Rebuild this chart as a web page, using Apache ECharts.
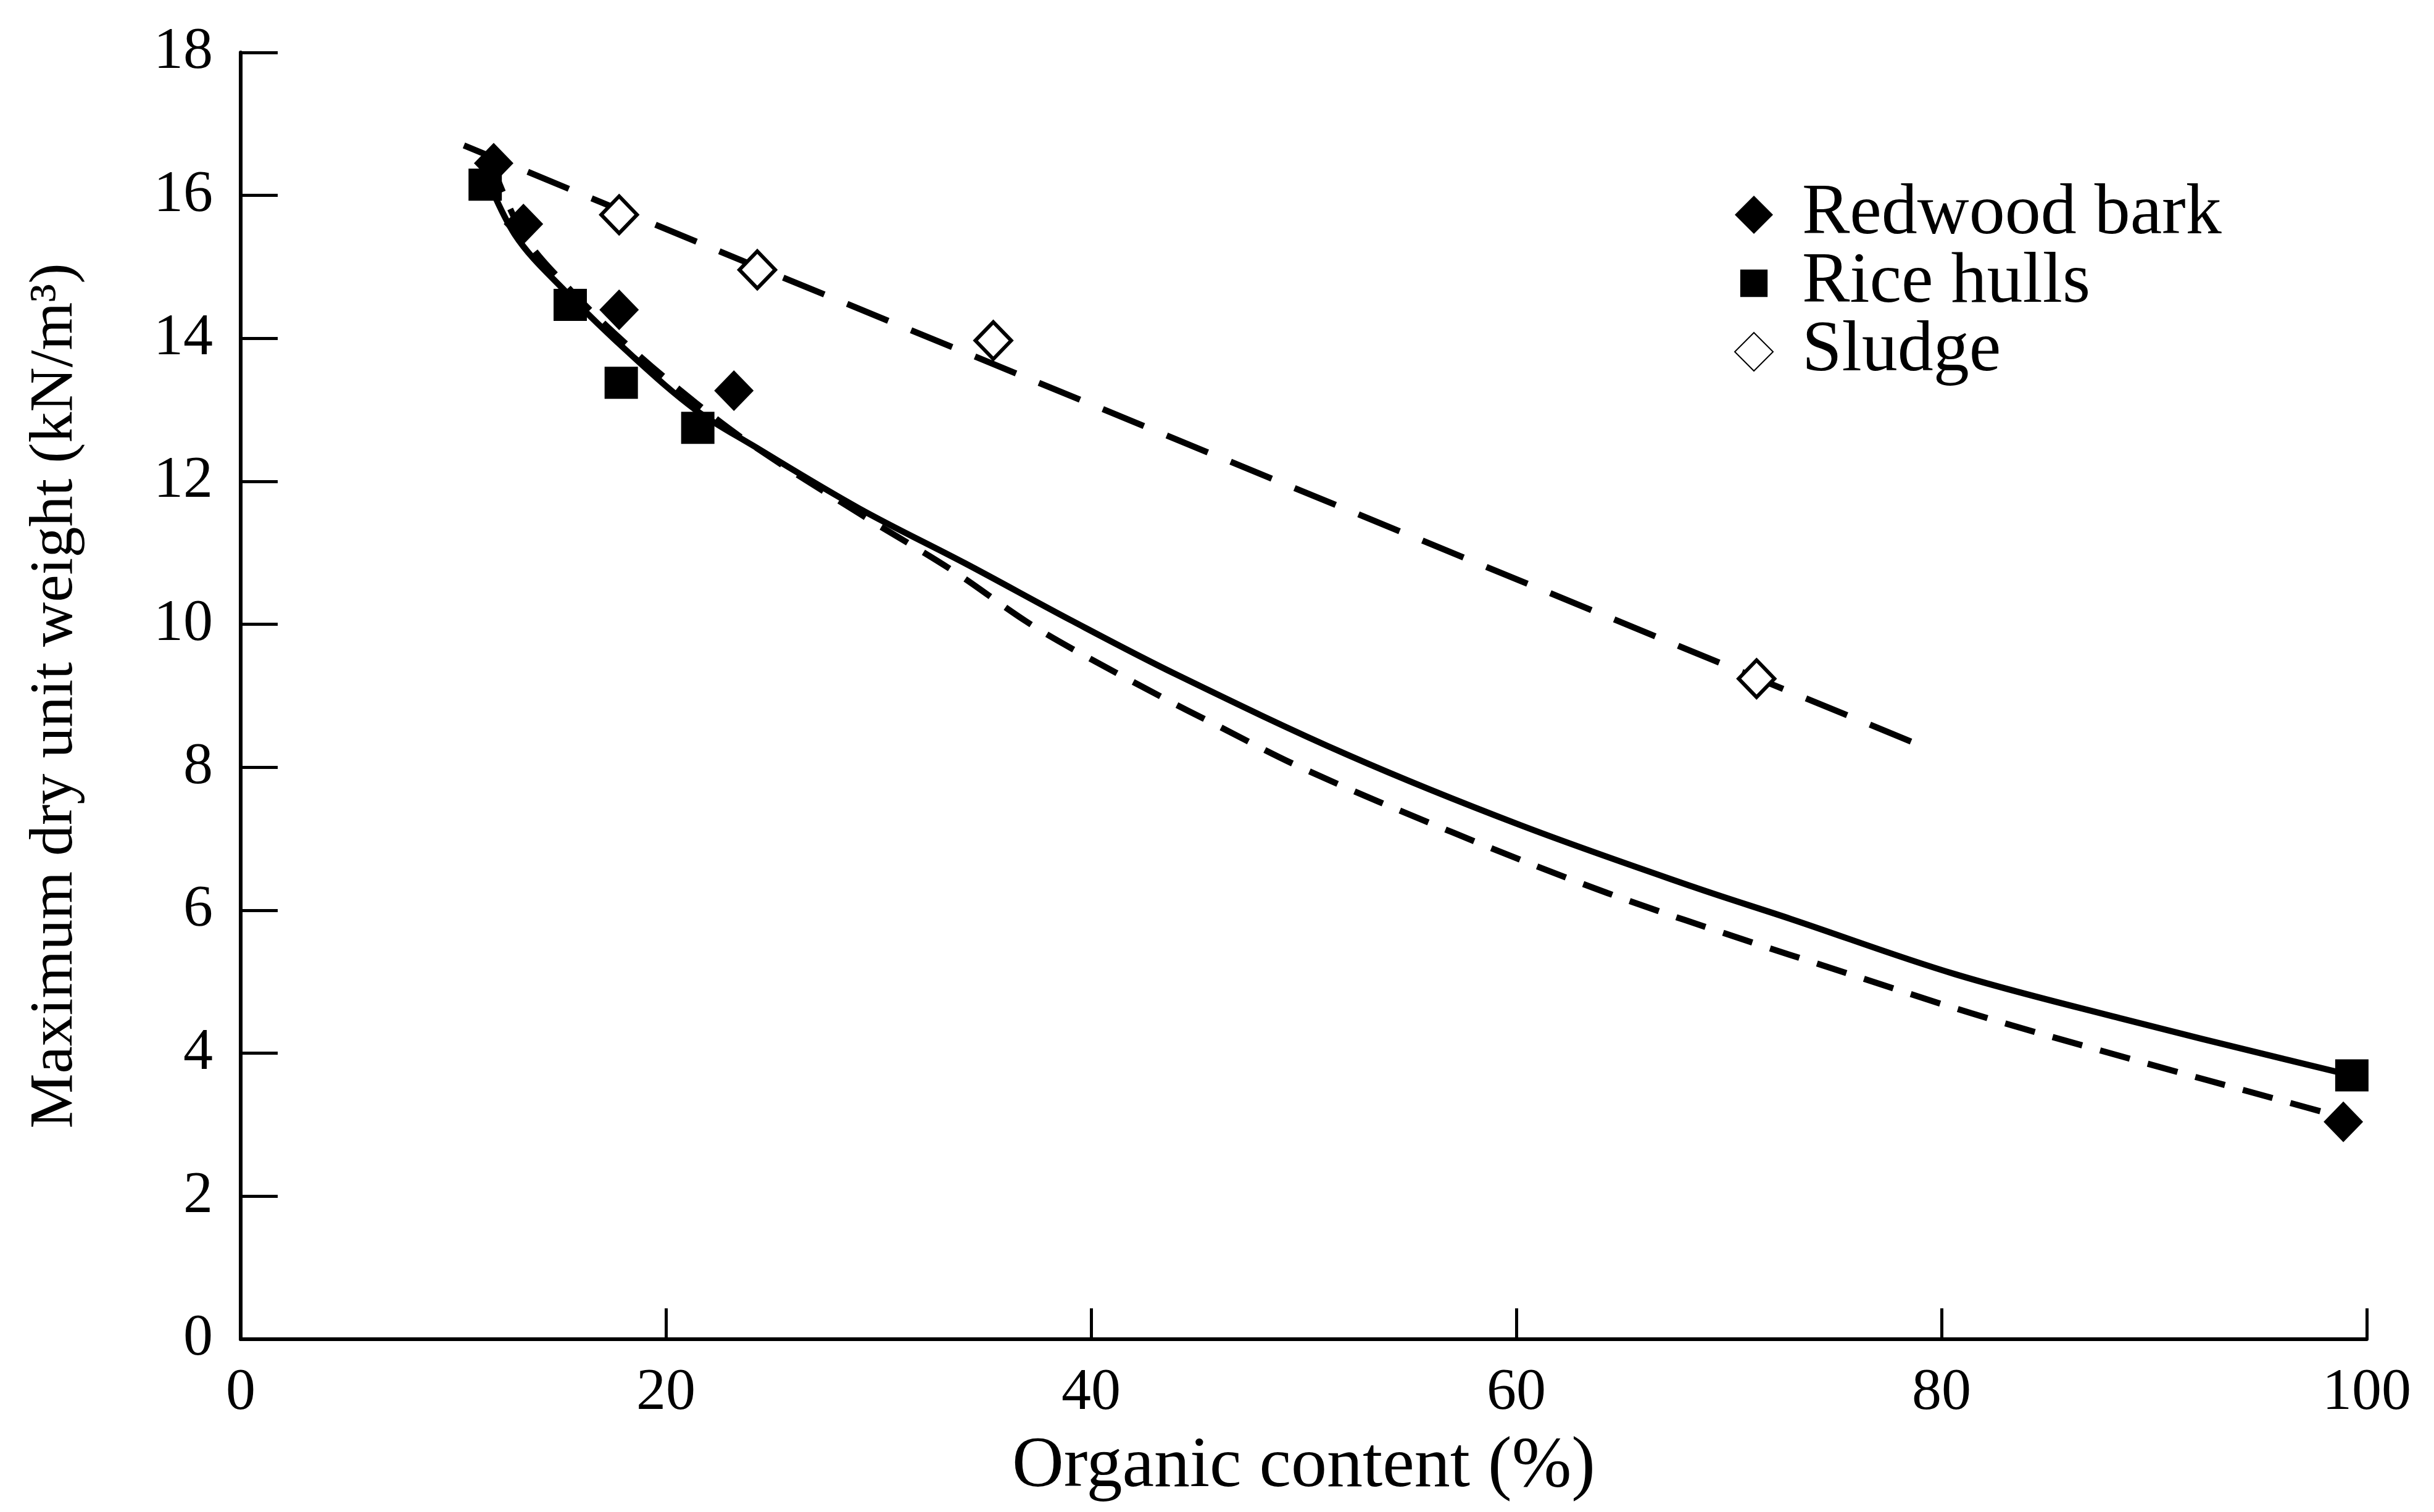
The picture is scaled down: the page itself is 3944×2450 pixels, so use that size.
<!DOCTYPE html>
<html>
<head>
<meta charset="utf-8">
<title>Maximum dry unit weight vs organic content</title>
<script src="https://cdn.jsdelivr.net/npm/echarts@6/dist/echarts.min.js"></script>
<style>
    html, body { margin: 0; padding: 0; background: #fff; }
    #chart { width: 3944px; height: 2450px; }
</style>
</head>
<body>
<div id="chart"></div>
<script>
    // measured points [organic content %, unit weight kN/m3]
    const redwoodBark = [[11.9, 16.45], [13.3, 15.6], [17.8, 14.4], [23.2, 13.27], [98.9, 3.04]];
    const riceHulls = [[11.5, 16.15], [15.5, 14.47], [17.9, 13.38], [21.5, 12.75], [99.3, 3.69]];
    const sludge = [[17.8, 15.73], [24.3, 14.96], [35.4, 13.97], [71.3, 9.24]];

    // trend curves
    const riceHullsCurve = [[11.3, 16.45], [12.9, 15.45], [15.3, 14.65], [18.4, 13.76], [21.4, 13.0], [24.1, 12.5],
        [29.1, 11.62], [34.1, 10.85], [39.1, 10.05], [44.0, 9.3], [52.1, 8.17], [60.2, 7.19], [68.3, 6.33],
        [72.9, 5.88], [80.6, 5.11], [88.4, 4.49], [96.1, 3.92], [99.3, 3.69]];
    const redwoodCurve = [[11.8, 16.45], [13.3, 15.45], [15.5, 14.68], [18.4, 13.85], [21.4, 13.1], [24.1, 12.5],
        [29.1, 11.55], [33.5, 10.75], [36.9, 10.05], [39.1, 9.66], [43.4, 8.97], [45.7, 8.62], [50.0, 7.98],
        [57.0, 7.09], [64.3, 6.24], [71.6, 5.5], [74.1, 5.26], [81.4, 4.56], [88.9, 3.92], [96.1, 3.33], [98.9, 3.1]];
    // sludge trend is a straight dashed line
    const sludgeLine = [[10.5, 16.7], [24.3, 15.0], [45.7, 12.38], [71.3, 9.25], [78.9, 8.32]];

    const xTicks = { min: 0, max: 100, step: 20 };
    const yTicks = { min: 0, max: 18, step: 2 };

    const font = '"Liberation Serif", "Times New Roman", serif';
    const black = '#000';

    let chart = echarts.init(document.getElementById('chart'));
    let options = {
        animation: false,
        backgroundColor: '#fff',
        grid: {
            left: 390,
            right: 109,
            top: 85,
            bottom: 280,
            containLabel: false
        },
        legend: {
            orient: 'vertical',
            left: 2805,
            top: 285,
            itemWidth: 62,
            itemHeight: 62,
            itemGap: -5,
            textStyle: { fontFamily: font, fontSize: 116, color: black, padding: [0, 0, 0, 42] },
            data: [
                { name: 'Redwood bark', icon: 'diamond' },
                // extra moveTo points pad the square so it draws smaller than the diamond
                { name: 'Rice hulls', icon: 'path://M0,0M14,14M2,2H12V12H2Z' },
                { name: 'Sludge', icon: 'diamond' }
            ]
        },
        xAxis: {
            type: 'value',
            min: xTicks.min,
            max: xTicks.max,
            interval: xTicks.step,
            name: 'Organic content (%)',
            nameLocation: 'middle',
            nameGap: 150,
            nameTextStyle: { fontFamily: font, fontSize: 116, color: black },
            axisLine: { show: true, lineStyle: { color: black, width: 6 } },
            axisTick: { show: true, inside: true, length: 50, lineStyle: { color: black, width: 5 } },
            axisLabel: { margin: 40, fontFamily: font, fontSize: 96, color: black },
            splitLine: { show: false }
        },
        yAxis: {
            type: 'value',
            min: yTicks.min,
            max: yTicks.max,
            interval: yTicks.step,
            name: 'Maximum dry unit weight (kN/m\u00b3)',
            nameLocation: 'middle',
            nameGap: 250,
            nameTextStyle: { fontFamily: font, fontSize: 100, color: black },
            axisLine: { show: true, lineStyle: { color: black, width: 6 } },
            axisTick: { show: true, inside: true, length: 60, lineStyle: { color: black, width: 5 } },
            axisLabel: { margin: 45, fontFamily: font, fontSize: 96, color: black },
            splitLine: { show: false }
        },
        series: [
            {
                name: 'Rice hulls curve',
                type: 'line',
                data: riceHullsCurve,
                smooth: 0.35,
                showSymbol: false,
                lineStyle: { color: black, width: 10, type: 'solid' },
                z: 2
            },
            {
                name: 'Redwood bark curve',
                type: 'line',
                data: redwoodCurve,
                smooth: 0.35,
                showSymbol: false,
                lineStyle: { color: black, width: 10, type: [50, 30] },
                z: 2
            },
            {
                name: 'Sludge line',
                type: 'line',
                data: sludgeLine,
                smooth: false,
                showSymbol: false,
                lineStyle: { color: black, width: 10, type: [72, 40] },
                z: 2
            },
            {
                name: 'Redwood bark',
                type: 'scatter',
                data: redwoodBark,
                symbol: 'diamond',
                symbolSize: [64, 66],
                itemStyle: { color: black, opacity: 1 },
                z: 4
            },
            {
                name: 'Rice hulls',
                type: 'scatter',
                data: riceHulls,
                symbol: 'rect',
                symbolSize: [54, 52],
                itemStyle: { color: black, opacity: 1 },
                z: 4
            },
            {
                name: 'Sludge',
                type: 'scatter',
                data: sludge,
                symbol: 'diamond',
                symbolSize: [58, 60],
                itemStyle: { color: '#fff', borderColor: black, borderWidth: 6, opacity: 1 },
                z: 4
            }
        ]
    };
    chart.setOption(options);

    window.addEventListener('resize', () => {
        chart.resize();
    });
</script>
</body>
</html>
